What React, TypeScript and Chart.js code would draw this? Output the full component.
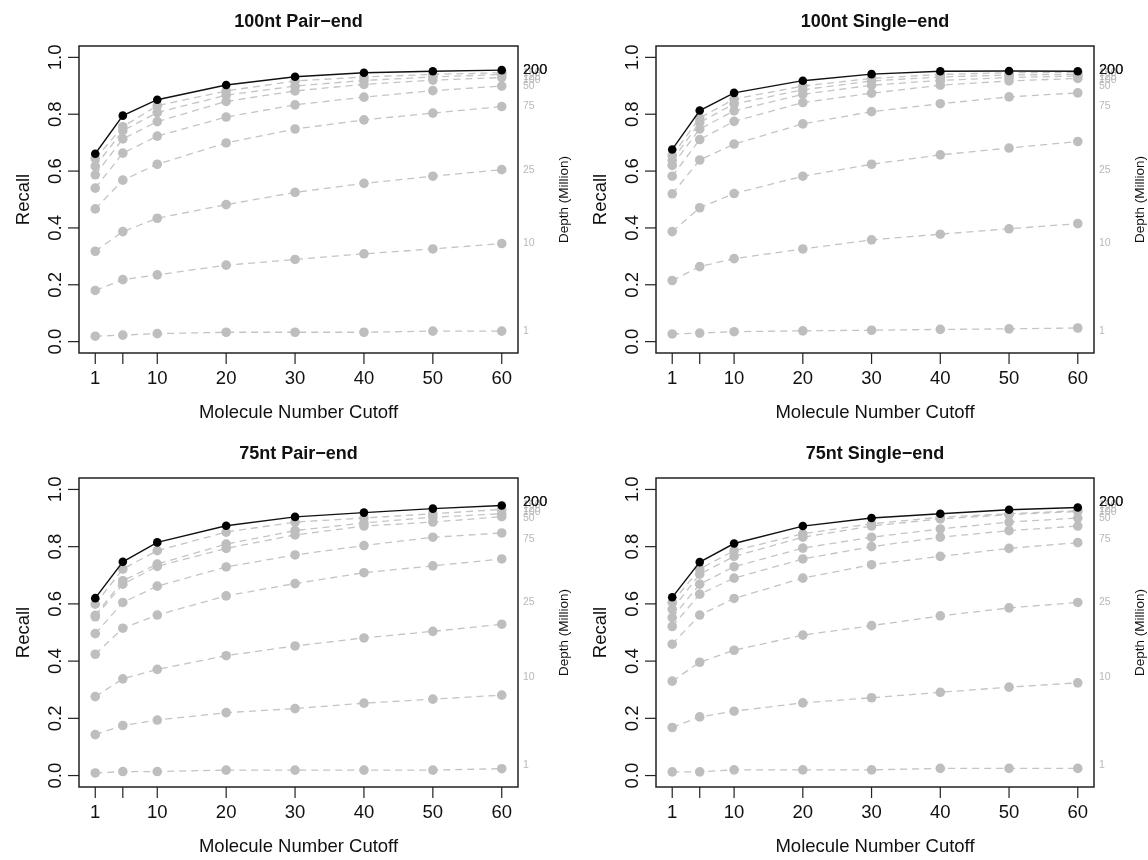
import React, { useEffect, useRef } from 'react';
import { Chart, registerables } from 'chart.js';

Chart.register(...registerables);

// ---------- data ----------
const cutoffs = [1, 5, 10, 20, 30, 40, 50, 60];
const xTickValues = [1, 5, 10, 20, 30, 40, 50, 60];
const xTickLabels = ['1', '', '10', '20', '30', '40', '50', '60'];
const yTickValues = [0, 0.2, 0.4, 0.6, 0.8, 1.0];
const yTickLabels = ['0.0', '0.2', '0.4', '0.6', '0.8', '1.0'];

// right-hand depth labels (Million reads) and the recall value they sit at
const depthLabels = ['1', '10', '25', '75', '50', '100', '125', '150', '200'];
const depthLabelValues = [0.037, 0.345, 0.605, 0.827, 0.899, 0.921, 0.93, 0.944, 0.955];

// series, bottom to top; last one is the 200M (black) series
const pairEnd100: number[][] = [
  [0.019, 0.023, 0.028, 0.033, 0.033, 0.033, 0.037, 0.037],
  [0.180, 0.218, 0.235, 0.269, 0.289, 0.309, 0.326, 0.345],
  [0.318, 0.387, 0.434, 0.482, 0.525, 0.557, 0.582, 0.605],
  [0.467, 0.568, 0.624, 0.699, 0.748, 0.780, 0.804, 0.827],
  [0.540, 0.663, 0.723, 0.790, 0.833, 0.860, 0.883, 0.899],
  [0.587, 0.713, 0.774, 0.845, 0.882, 0.905, 0.920, 0.929],
  [0.617, 0.742, 0.806, 0.867, 0.899, 0.919, 0.931, 0.940],
  [0.644, 0.756, 0.830, 0.882, 0.917, 0.931, 0.940, 0.946],
  [0.661, 0.795, 0.851, 0.903, 0.932, 0.946, 0.951, 0.955],
];

const singleEnd100: number[][] = [
  [0.027, 0.030, 0.035, 0.038, 0.040, 0.043, 0.045, 0.048],
  [0.215, 0.264, 0.292, 0.326, 0.358, 0.378, 0.397, 0.415],
  [0.387, 0.471, 0.521, 0.582, 0.624, 0.657, 0.681, 0.704],
  [0.520, 0.639, 0.695, 0.766, 0.809, 0.837, 0.861, 0.875],
  [0.582, 0.711, 0.775, 0.841, 0.874, 0.902, 0.917, 0.926],
  [0.620, 0.748, 0.812, 0.870, 0.902, 0.919, 0.929, 0.934],
  [0.638, 0.771, 0.836, 0.886, 0.917, 0.931, 0.938, 0.940],
  [0.655, 0.787, 0.853, 0.899, 0.926, 0.940, 0.946, 0.947],
  [0.676, 0.813, 0.875, 0.918, 0.941, 0.951, 0.952, 0.951],
];

const pairEnd75: number[][] = [
  [0.009, 0.014, 0.014, 0.019, 0.019, 0.019, 0.019, 0.024],
  [0.143, 0.175, 0.194, 0.220, 0.234, 0.253, 0.267, 0.281],
  [0.276, 0.338, 0.371, 0.419, 0.453, 0.481, 0.504, 0.529],
  [0.424, 0.515, 0.561, 0.628, 0.671, 0.709, 0.733, 0.757],
  [0.496, 0.605, 0.662, 0.729, 0.771, 0.804, 0.833, 0.848],
  [0.555, 0.669, 0.731, 0.794, 0.841, 0.872, 0.886, 0.905],
  [0.560, 0.681, 0.739, 0.809, 0.856, 0.883, 0.903, 0.915],
  [0.599, 0.722, 0.786, 0.851, 0.886, 0.900, 0.915, 0.930],
  [0.620, 0.747, 0.815, 0.873, 0.904, 0.919, 0.933, 0.944],
];

const singleEnd75: number[][] = [
  [0.013, 0.013, 0.020, 0.020, 0.020, 0.025, 0.025, 0.025],
  [0.168, 0.205, 0.225, 0.254, 0.272, 0.291, 0.309, 0.324],
  [0.330, 0.396, 0.438, 0.491, 0.524, 0.558, 0.586, 0.605],
  [0.459, 0.561, 0.619, 0.690, 0.737, 0.766, 0.794, 0.814],
  [0.521, 0.634, 0.690, 0.757, 0.800, 0.833, 0.856, 0.872],
  [0.552, 0.669, 0.730, 0.795, 0.833, 0.862, 0.886, 0.900],
  [0.581, 0.704, 0.766, 0.833, 0.872, 0.897, 0.912, 0.923],
  [0.605, 0.722, 0.786, 0.845, 0.880, 0.903, 0.915, 0.926],
  [0.623, 0.746, 0.811, 0.872, 0.900, 0.915, 0.929, 0.937],
];

const panelTitles = ['100nt Pair\u2212end', '100nt Single\u2212end', '75nt Pair\u2212end', '75nt Single\u2212end'];
const panelData = [pairEnd100, singleEnd100, pairEnd75, singleEnd75];

const FONT = '"Liberation Sans", Arial, Helvetica, sans-serif';
const W = 574;
const H = 430;

const paddings = [
  { left: 79, right: 56, top: 46, bottom: 77 },
  { left: 82, right: 54, top: 46, bottom: 77 },
  { left: 79, right: 56, top: 48, bottom: 73 },
  { left: 82, right: 54, top: 48, bottom: 73 },
];
const positions = [
  { left: 0, top: 0 },
  { left: 574, top: 0 },
  { left: 0, top: 430 },
  { left: 574, top: 430 },
];

function makeAxesPlugin(title: string) {
  return {
    id: 'rAxes',
    afterDraw(chart: any) {
      const ctx = chart.ctx as CanvasRenderingContext2D;
      const { left, right, top, bottom } = chart.chartArea;
      const xs = chart.scales.x;
      const ys = chart.scales.y;
      ctx.save();
      // box
      ctx.strokeStyle = '#222';
      ctx.lineWidth = 1.5;
      ctx.strokeRect(left, top, right - left, bottom - top);

      ctx.lineWidth = 1.2;
      ctx.fillStyle = '#111';
      // x ticks
      ctx.font = `18.5px ${FONT}`;
      ctx.textAlign = 'center';
      ctx.textBaseline = 'middle';
      xTickValues.forEach((v, i) => {
        const px = xs.getPixelForValue(v);
        ctx.beginPath();
        ctx.moveTo(px, bottom);
        ctx.lineTo(px, bottom + 11);
        ctx.stroke();
        if (xTickLabels[i]) ctx.fillText(xTickLabels[i], px, bottom + 26);
      });
      // x title
      ctx.fillText('Molecule Number Cutoff', (left + right) / 2, bottom + 60);

      // y ticks
      yTickValues.forEach((v, i) => {
        const py = ys.getPixelForValue(v);
        ctx.beginPath();
        ctx.moveTo(left, py);
        ctx.lineTo(left - 11, py);
        ctx.stroke();
        ctx.save();
        ctx.translate(left - 18, py);
        ctx.rotate(-Math.PI / 2);
        ctx.textAlign = 'center';
        ctx.textBaseline = 'alphabetic';
        ctx.fillText(yTickLabels[i], 0, 0);
        ctx.restore();
      });
      // y title
      ctx.save();
      ctx.translate(left - 50, (top + bottom) / 2);
      ctx.rotate(-Math.PI / 2);
      ctx.textAlign = 'center';
      ctx.textBaseline = 'alphabetic';
      ctx.fillText('Recall', 0, 0);
      ctx.restore();

      // title
      ctx.font = `bold 18px ${FONT}`;
      ctx.textAlign = 'center';
      ctx.textBaseline = 'middle';
      ctx.fillText(title, (left + right) / 2, top - 24);

      // depth labels on the right
      ctx.textAlign = 'left';
      depthLabels.forEach((lab, i) => {
        const py = ys.getPixelForValue(depthLabelValues[i]);
        if (lab === '200') {
          ctx.font = `14.5px ${FONT}`;
          ctx.fillStyle = '#1a1a1a';
        } else {
          ctx.font = `10.5px ${FONT}`;
          ctx.fillStyle = '#b8b8b8';
        }
        ctx.fillText(lab, right + 5, py);
      });
      // draw 200 again on top
      ctx.font = `14.5px ${FONT}`;
      ctx.fillStyle = '#1a1a1a';
      ctx.fillText('200', right + 5, ys.getPixelForValue(depthLabelValues[depthLabelValues.length - 1]));

      // right axis title
      ctx.save();
      ctx.fillStyle = '#111';
      ctx.font = `13.5px ${FONT}`;
      ctx.translate(right + 50, (top + bottom) / 2);
      ctx.rotate(-Math.PI / 2);
      ctx.textAlign = 'center';
      ctx.textBaseline = 'alphabetic';
      ctx.fillText('Depth (Million)', 0, 0);
      ctx.restore();

      ctx.restore();
    },
  };
}

function Panel({ index }: { index: number }) {
  const ref = useRef<HTMLCanvasElement>(null);
  useEffect(() => {
    const canvas = ref.current;
    if (!canvas) return;
    const series = panelData[index];
    const n = series.length;
    const datasets = series.map((vals, si) => {
      const isTop = si === n - 1;
      return {
        label: depthLabels[si],
        data: cutoffs.map((c, k) => ({ x: c, y: vals[k] })),
        borderColor: isTop ? '#111111' : '#c4c4c4',
        borderWidth: isTop ? 1.4 : 1.3,
        borderDash: isTop ? [] : [7, 5],
        pointRadius: isTop ? 4.3 : 4.8,
        pointBackgroundColor: isTop ? '#000000' : '#bebebe',
        pointBorderWidth: 0,
        pointBorderColor: 'rgba(0,0,0,0)',
        tension: 0,
        fill: false,
        order: n - si,
      };
    });
    const chart = new Chart(canvas, {
      type: 'line',
      data: { datasets },
      options: {
        responsive: false,
        animation: false,
        devicePixelRatio: 1,
        events: [],
        layout: { padding: paddings[index] },
        plugins: {
          legend: { display: false },
          title: { display: false },
          tooltip: { enabled: false },
        },
        scales: {
          x: { type: 'linear', min: -1.36, max: 62.36, display: false },
          y: { type: 'linear', min: -0.04, max: 1.04, display: false },
        },
      } as any,
      plugins: [makeAxesPlugin(panelTitles[index])],
    });
    return () => chart.destroy();
  }, [index]);
  return (
    <canvas
      ref={ref}
      width={W}
      height={H}
      style={{ position: 'absolute', left: positions[index].left, top: positions[index].top, width: W, height: H }}
    />
  );
}

export default function App() {
  return (
    <div style={{ position: 'absolute', left: 0, top: 0, width: 1148, height: 860, background: '#fff' }}>
      {[0, 1, 2, 3].map((i) => (
        <Panel key={i} index={i} />
      ))}
    </div>
  );
}
